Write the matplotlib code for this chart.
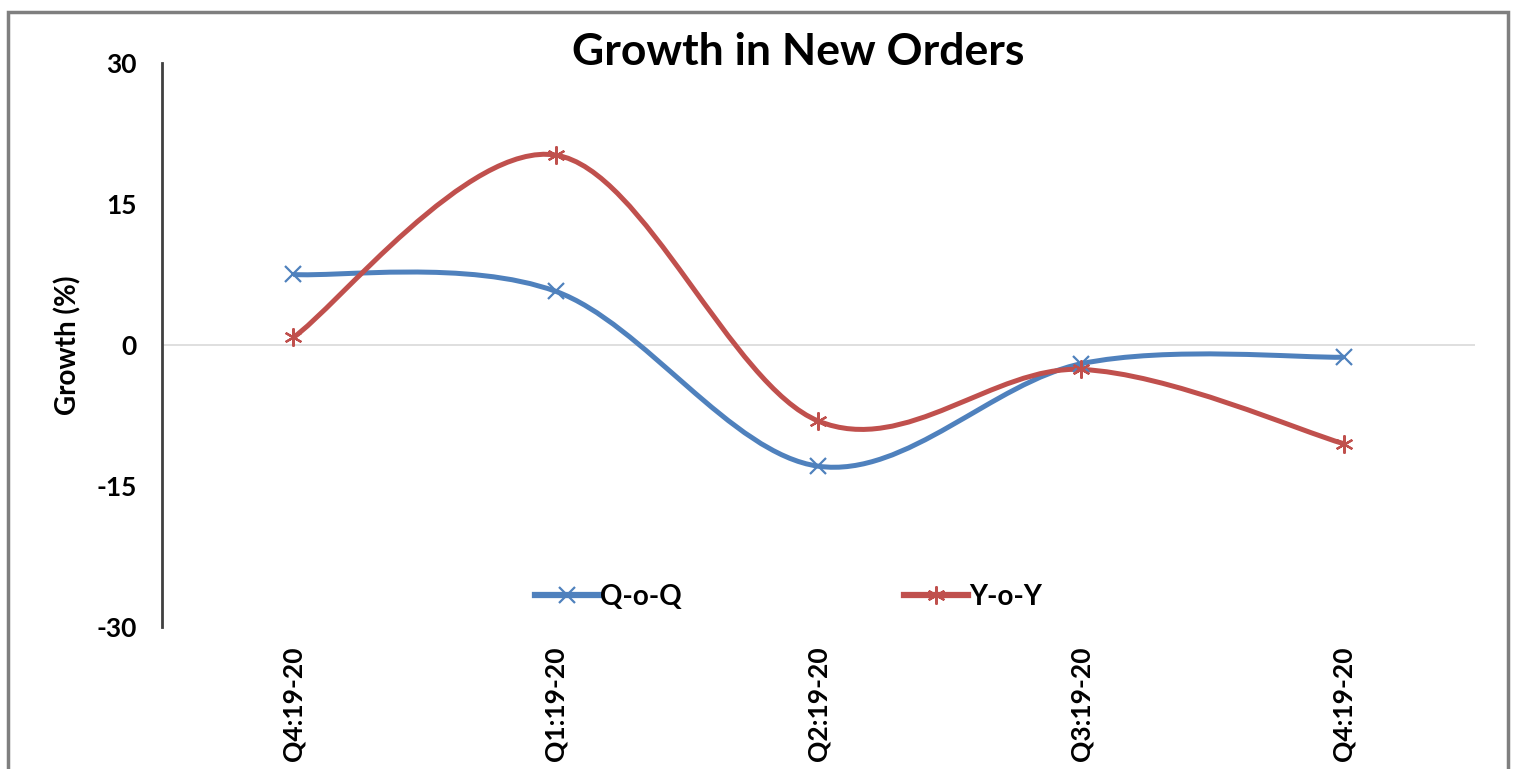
import matplotlib.pyplot as plt
from matplotlib.path import Path
from matplotlib.patches import PathPatch, Rectangle
from matplotlib.lines import Line2D

plt.rcParams['font.family'] = ['Lato', 'DejaVu Sans']
plt.rcParams['font.weight'] = 'bold'
plt.rcParams['axes.unicode_minus'] = False

# data
quarters = ['Q4:19-20', 'Q1:19-20', 'Q2:19-20', 'Q3:19-20', 'Q4:19-20']
qoq = [7.5, 5.7, -12.9, -2.0, -1.3]
yoy = [0.8, 20.2, -8.1, -2.6, -10.5]
blue = '#4f81bd'
red = '#c0504d'


def smooth_path(xs, ys):
    # Excel style smoothed line: cubic bezier with catmull-rom tangents
    pts = list(zip(xs, ys))
    verts = [pts[0]]
    codes = [Path.MOVETO]
    n = len(pts)
    for i in range(n - 1):
        p0 = pts[i - 1] if i > 0 else pts[i]
        p1 = pts[i]
        p2 = pts[i + 1]
        p3 = pts[i + 2] if i + 2 < n else pts[i + 1]
        c1 = (p1[0] + (p2[0] - p0[0]) / 6, p1[1] + (p2[1] - p0[1]) / 6)
        c2 = (p2[0] - (p3[0] - p1[0]) / 6, p2[1] - (p3[1] - p1[1]) / 6)
        verts += [c1, c2, p2]
        codes += [Path.CURVE4] * 3
    return Path(verts, codes)


fig = plt.figure(figsize=(15.17, 7.69), dpi=100)
ax = fig.add_axes([0.1068, 0.1847, 0.8655, 0.7334])

x = list(range(len(quarters)))
ax.axhline(0, color='#d9d9d9', lw=1.2, zorder=1)
ax.add_patch(PathPatch(smooth_path(x, qoq), fill=False, ec=blue, lw=3.6, zorder=3))
ax.add_patch(PathPatch(smooth_path(x, yoy), fill=False, ec=red, lw=3.6, zorder=3))
ax.plot(x, qoq, ls='none', marker='x', ms=11, mew=1.6, color=blue, zorder=4)
ax.plot(x, yoy, ls='none', marker=(6, 2, 0), ms=13, mew=1.6, color=red, zorder=4)

ax.set_xlim(-0.5, len(quarters) - 0.5)
ax.set_ylim(-30, 30)
ax.set_yticks([-30, -15, 0, 15, 30])
ax.set_xticks(x)
ax.set_xticklabels(quarters, rotation=90, fontsize=19, fontweight='bold', va='top')
ax.tick_params(axis='y', length=0, pad=18, labelsize=19)
ax.tick_params(axis='x', length=0, pad=14)
for s in ['top', 'right', 'bottom']:
    ax.spines[s].set_visible(False)
ax.spines['left'].set_color('#404040')
ax.spines['left'].set_linewidth(2)

fig.text(0.045, 0.551, 'Growth (%)', rotation=90, ha='center', va='center',
         fontsize=20, fontweight='bold')
fig.text(0.526, 0.932, 'Growth in New Orders', ha='center', va='center',
         fontsize=32, fontweight='bold')

handles = [Line2D([], [], color=blue, lw=4.5, marker='x', ms=11, mew=1.6),
           Line2D([], [], color=red, lw=4.5, marker=(6, 2, 0), ms=13, mew=1.6)]
ax.legend(handles, ['Q-o-Q', 'Y-o-Y'], loc='center', bbox_to_anchor=(0.520, 0.224),
          bbox_transform=fig.transFigure, ncol=2, frameon=False, fontsize=20,
          handlelength=2.3, handletextpad=0.05, columnspacing=8)

# outer frame of the chart area
fig.patches.append(Rectangle((0.0053, -0.05), 0.989, 1.034, transform=fig.transFigure,
                             fill=False, ec='#7f7f7f', lw=2.5))

fig.savefig('out.png', dpi=100)
